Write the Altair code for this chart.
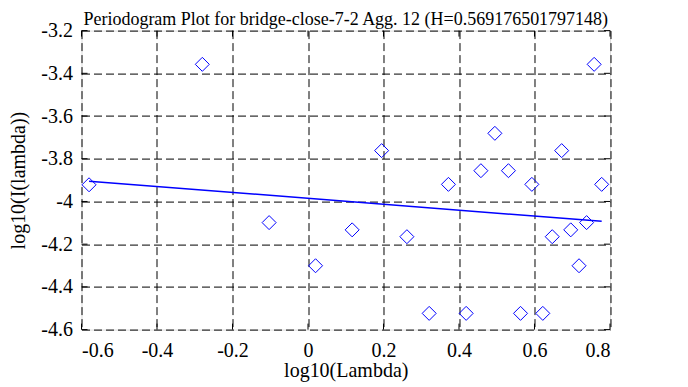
import altair as alt
import pandas as pd

# Periodogram points (log10 frequency, log10 power)
log_lambda = [-0.580, -0.280, -0.103, 0.020, 0.117, 0.195, 0.262, 0.321, 0.372,
              0.419, 0.458, 0.495, 0.531, 0.563, 0.593, 0.622, 0.647, 0.672,
              0.696, 0.718, 0.738, 0.758, 0.778]
log_i = [-3.922, -3.358, -4.099, -4.301, -4.133, -3.762, -4.165, -4.524, -3.920,
         -4.524, -3.856, -3.681, -3.856, -4.524, -3.920, -4.524, -4.165, -3.762,
         -4.133, -4.301, -4.099, -3.358, -3.920]

# Fitted line endpoints
fit_x = [-0.580, 0.778]
fit_y = [-3.905, -4.093]

x_ticks = [-0.6, -0.4, -0.2, 0.0, 0.2, 0.4, 0.6, 0.8]
y_ticks = [-4.6, -4.4, -4.2, -4.0, -3.8, -3.6, -3.4, -3.2]

pts = pd.DataFrame({"x": log_lambda, "y": log_i})
fit = pd.DataFrame({"x": fit_x, "y": fit_y})
xt = pd.DataFrame({"v": x_ticks})
yt = pd.DataFrame({"v": y_ticks})

FONT = "Liberation Serif"
FS = 20
label_expr = "(datum.value < 0 ? '-' : '') + format(abs(datum.value), '.1~f')"

xscale = alt.Scale(domain=[-0.6, 0.8], nice=False, zero=False)
yscale = alt.Scale(domain=[-4.6, -3.2], nice=False, zero=False)

xaxis = alt.Axis(values=x_ticks, labelExpr=label_expr, title="log10(Lambda)",
                 grid=True, gridColor="black", gridDash=[8, 4], gridWidth=1, gridOpacity=1,
                 domain=False, ticks=False, labelPadding=11, titlePadding=0,
                 labelFont=FONT, titleFont=FONT, labelFontSize=FS, titleFontSize=FS,
                 titleFontWeight="normal", labelColor="black", titleColor="black")
yaxis = alt.Axis(values=y_ticks, labelExpr=label_expr, title="log10(I(lambda))",
                 grid=True, gridColor="black", gridDash=[8, 4], gridWidth=1, gridOpacity=1,
                 domain=False, ticks=False, labelPadding=9, titlePadding=12,
                 labelFont=FONT, titleFont=FONT, labelFontSize=FS, titleFontSize=FS,
                 titleFontWeight="normal", labelColor="black", titleColor="black")

W, H = 528.5, 299

points = alt.Chart(pts).mark_point(shape="diamond", size=196, filled=False,
                                   color="#0000ff", strokeWidth=1, opacity=1).encode(
    x=alt.X("x:Q", scale=xscale, axis=xaxis),
    y=alt.Y("y:Q", scale=yscale, axis=yaxis),
)

line = alt.Chart(fit).mark_line(color="#0000ff", strokeWidth=1.5).encode(
    x=alt.X("x:Q", scale=xscale),
    y=alt.Y("y:Q", scale=yscale),
)

tick_left = alt.Chart(yt).mark_rule(color="black", strokeWidth=1).encode(
    y=alt.Y("v:Q", scale=yscale), x=alt.value(0), x2=alt.value(6))
tick_right = alt.Chart(yt).mark_rule(color="black", strokeWidth=1).encode(
    y=alt.Y("v:Q", scale=yscale), x=alt.value(W - 6), x2=alt.value(W))
tick_bottom = alt.Chart(xt).mark_rule(color="black", strokeWidth=1).encode(
    x=alt.X("v:Q", scale=xscale), y=alt.value(H - 6), y2=alt.value(H))
tick_top = alt.Chart(xt).mark_rule(color="black", strokeWidth=1).encode(
    x=alt.X("v:Q", scale=xscale), y=alt.value(0), y2=alt.value(6))

chart = alt.layer(tick_left, tick_right, tick_bottom, tick_top, line, points).properties(
    width=W, height=H,
    title=alt.TitleParams("Periodogram Plot for bridge-close-7-2 Agg. 12 (H=0.569176501797148)",
                          font=FONT, fontSize=18, fontWeight="normal", color="black",
                          anchor="middle", offset=-8),
    autosize=alt.AutoSizeParams(type="none"),
    padding={"left": 73.5, "top": 22.6, "right": 70, "bottom": 57},
).configure_view(stroke="black", strokeWidth=2).configure(background="white")

chart.save("out.html", embed_options={"renderer": "svg", "actions": False})
